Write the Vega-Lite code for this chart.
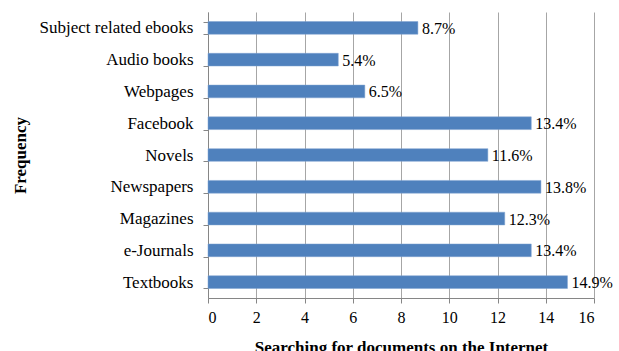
{
  "$schema": "https://vega.github.io/schema/vega-lite/v6.json",
  "width": 386,
  "height": 286,
  "autosize": {"type": "none"},
  "padding": {"left": 208, "top": 12, "right": 25, "bottom": 53},
  "background": "white",
  "data": {"values": [
    {"category": "Subject related ebooks", "value": 8.7, "label": "8.7%"},
    {"category": "Audio books", "value": 5.4, "label": "5.4%"},
    {"category": "Webpages", "value": 6.5, "label": "6.5%"},
    {"category": "Facebook", "value": 13.4, "label": "13.4%"},
    {"category": "Novels", "value": 11.6, "label": "11.6%"},
    {"category": "Newspapers", "value": 13.8, "label": "13.8%"},
    {"category": "Magazines", "value": 12.3, "label": "12.3%"},
    {"category": "e-Journals", "value": 13.4, "label": "13.4%"},
    {"category": "Textbooks", "value": 14.9, "label": "14.9%"}
  ]},
  "config": {
    "view": {"stroke": null},
    "font": "Liberation Serif"
  },
  "encoding": {
    "y": {
      "field": "category", "type": "nominal", "sort": null,
      "scale": {"paddingInner": 0.6, "paddingOuter": 0.3},
      "axis": {
        "title": "Frequency", "titleFont": "Liberation Serif", "titleFontSize": 17, "titleFontWeight": "bold",
        "titleColor": "black", "titleX": -188, "titleY": 143, "titleAngle": -90, "titleBaseline": "middle",
        "labelFont": "Liberation Serif", "labelFontSize": 17, "labelColor": "black", "labelPadding": 10,
        "domainColor": "#868686", "tickColor": "#868686", "tickSize": 5, "tickBand": "extent",
        "grid": false
      }
    },
    "x": {
      "field": "value", "type": "quantitative",
      "scale": {"domain": [0, 16], "nice": false},
      "axis": {
        "title": "Searching for documents on the Internet", "titleFont": "Liberation Serif", "titleFontSize": 17,
        "titleFontWeight": "bold", "titleColor": "black", "titleY": 54, "titleBaseline": "alphabetic",
        "values": [0, 2, 4, 6, 8, 10, 12, 14, 16],
        "labelFont": "Liberation Serif", "labelFontSize": 16, "labelColor": "black", "labelPadding": 6,
        "domainColor": "#868686", "tickColor": "#868686", "tickSize": 5,
        "grid": true, "gridColor": "#a6a6a6", "gridWidth": 1
      }
    }
  },
  "layer": [
    {"mark": {"type": "bar", "color": "#4F81BD", "stroke": "#7fa3d0", "strokeWidth": 0.5}},
    {"mark": {"type": "text", "align": "left", "dx": 4, "dy": 1, "fontSize": 16, "font": "Liberation Serif", "color": "black"},
     "encoding": {"text": {"field": "label", "type": "nominal"}}}
  ]
}
